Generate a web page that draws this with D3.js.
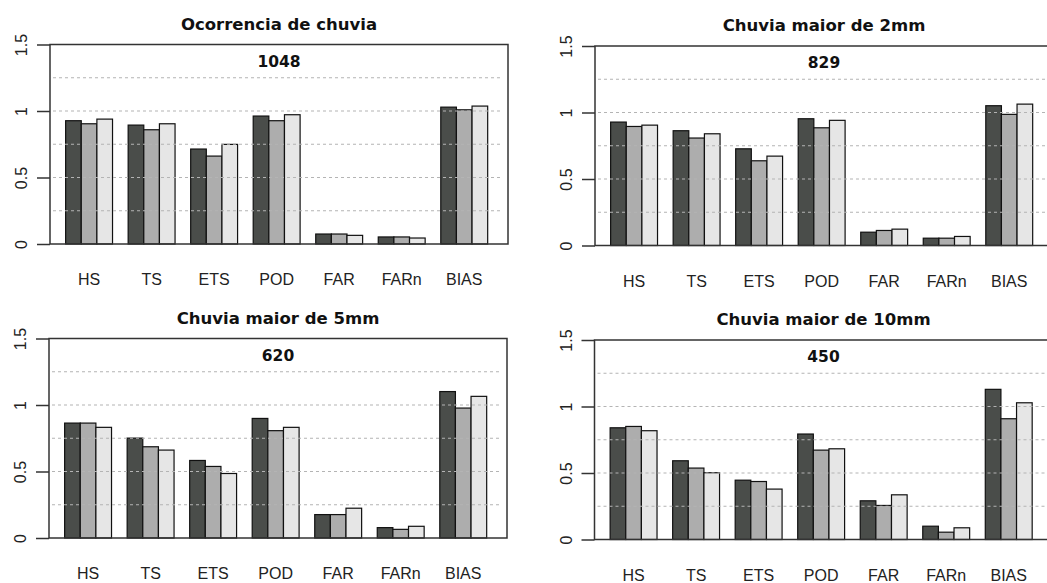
<!DOCTYPE html>
<html>
<head>
<meta charset="utf-8">
<script src="https://cdn.jsdelivr.net/npm/d3@7"></script>
<style>
  body { margin: 0; background: #fff; }
  svg { display: block; }
  .title { font: bold 16.5px "DejaVu Sans", sans-serif; fill: #111; }
  .count { font: bold 15.5px "DejaVu Sans", sans-serif; fill: #111; }
  .xlab, .ylab { font: 16px "Liberation Sans", Arial, sans-serif; fill: #222; }
</style>
</head>
<body>
<svg id="chart" width="1047" height="583"></svg>
<script>
// categories and the three series per category (dark, mid, light)
const categories = ["HS", "TS", "ETS", "POD", "FAR", "FARn", "BIAS"];
const titles = ["Ocorrencia de chuvia", "Chuvia maior de 2mm", "Chuvia maior de 5mm", "Chuvia maior de 10mm"];
const counts = ["1048", "829", "620", "450"];
const yTicks = [0, 0.5, 1, 1.5];
const gridVals = [0.25, 0.5, 0.75, 1, 1.25];

const occurrence = [[0.927, 0.904, 0.939], [0.894, 0.859, 0.904], [0.714, 0.661, 0.749],
  [0.962, 0.927, 0.972], [0.075, 0.075, 0.065], [0.053, 0.053, 0.045], [1.029, 1.009, 1.037]];
const above2mm = [[0.928, 0.895, 0.905], [0.863, 0.808, 0.840], [0.727, 0.637, 0.672],
  [0.953, 0.885, 0.941], [0.100, 0.113, 0.123], [0.055, 0.055, 0.068], [1.051, 0.986, 1.063]];
const above5mm = [[0.864, 0.864, 0.832], [0.751, 0.686, 0.661], [0.583, 0.538, 0.485],
  [0.899, 0.807, 0.832], [0.176, 0.176, 0.224], [0.078, 0.065, 0.088], [1.101, 0.977, 1.065]];
const above10mm = [[0.840, 0.850, 0.818], [0.592, 0.537, 0.502], [0.446, 0.436, 0.379],
  [0.793, 0.672, 0.682], [0.291, 0.256, 0.336], [0.100, 0.055, 0.088], [1.129, 0.908, 1.028]];

const fills = ["#4a4d4a", "#adadad", "#e6e6e6"];

// panel boxes: left edge, top edge
const panels = [
  {x: 50, y: 44.5, data: occurrence},
  {x: 595, y: 46, data: above2mm},
  {x: 49, y: 338.5, data: above5mm},
  {x: 594.5, y: 340, data: above10mm}
];
const pw = 458, ph = 199.5;

const svg = d3.select("#chart");

// draw one barplot panel
function drawPanel(p, i) {
  let g = svg.append("g").attr("transform", "translate(" + p.x + "," + p.y + ")");
  let x = d3.scaleLinear().domain([0, 29.3]).range([0, pw]);
  let y = d3.scaleLinear().domain([0, 1.5]).range([ph, 0]);

  // flatten groups into bars: group gi starts at unit gi*4+1
  let bars = [];
  p.data.forEach(function (grp, gi) {
    grp.forEach(function (v, si) {
      bars.push({u: gi * 4 + 1 + si, v: v, s: si});
    });
  });

  g.selectAll("rect.bar").data(bars).enter().append("rect")
    .attr("class", "bar")
    .attr("x", function (d) { return x(d.u); })
    .attr("y", function (d) { return y(d.v); })
    .attr("width", function (d) { return x(d.u + 1) - x(d.u); })
    .attr("height", function (d) { return y(0) - y(d.v); })
    .attr("fill", function (d) { return fills[d.s]; })
    .attr("stroke", "#111")
    .attr("stroke-width", 1.2);

  // dotted grid, drawn over the bars
  g.selectAll("line.grid").data(gridVals).enter().append("line")
    .attr("class", "grid")
    .attr("x1", 3).attr("x2", pw - 5)
    .attr("y1", function (d) { return y(d); })
    .attr("y2", function (d) { return y(d); })
    .attr("stroke", "#b4b4b4")
    .attr("stroke-width", 1.2)
    .attr("stroke-dasharray", "3,3");

  // frame
  g.append("rect")
    .attr("x", 0).attr("y", 0).attr("width", pw).attr("height", ph)
    .attr("fill", "none").attr("stroke", "#333").attr("stroke-width", 1.5);

  // y axis
  let ya = g.append("g").call(d3.axisLeft(y).tickValues(yTicks).tickSize(13).tickFormat(d3.format("")));
  ya.select(".domain").remove();
  ya.selectAll(".tick line").attr("stroke", "#333").attr("stroke-width", 1.5);
  ya.selectAll(".tick text")
    .attr("class", "ylab")
    .attr("x", 0).attr("y", -23).attr("dy", null)
    .attr("text-anchor", "middle")
    .attr("transform", "rotate(-90)");

  // category labels
  g.selectAll("text.xlab").data(categories).enter().append("text")
    .attr("class", "xlab")
    .attr("x", function (d, gi) { return x(gi * 4 + 2.5); })
    .attr("y", ph + 41)
    .attr("text-anchor", "middle")
    .text(function (d) { return d; });

  g.append("text").attr("class", "title")
    .attr("x", pw / 2).attr("y", -15)
    .attr("text-anchor", "middle")
    .text(titles[i]);

  g.append("text").attr("class", "count")
    .attr("x", pw / 2).attr("y", 22)
    .attr("text-anchor", "middle")
    .text(counts[i]);
}

panels.forEach(drawPanel);
</script>
</body>
</html>
